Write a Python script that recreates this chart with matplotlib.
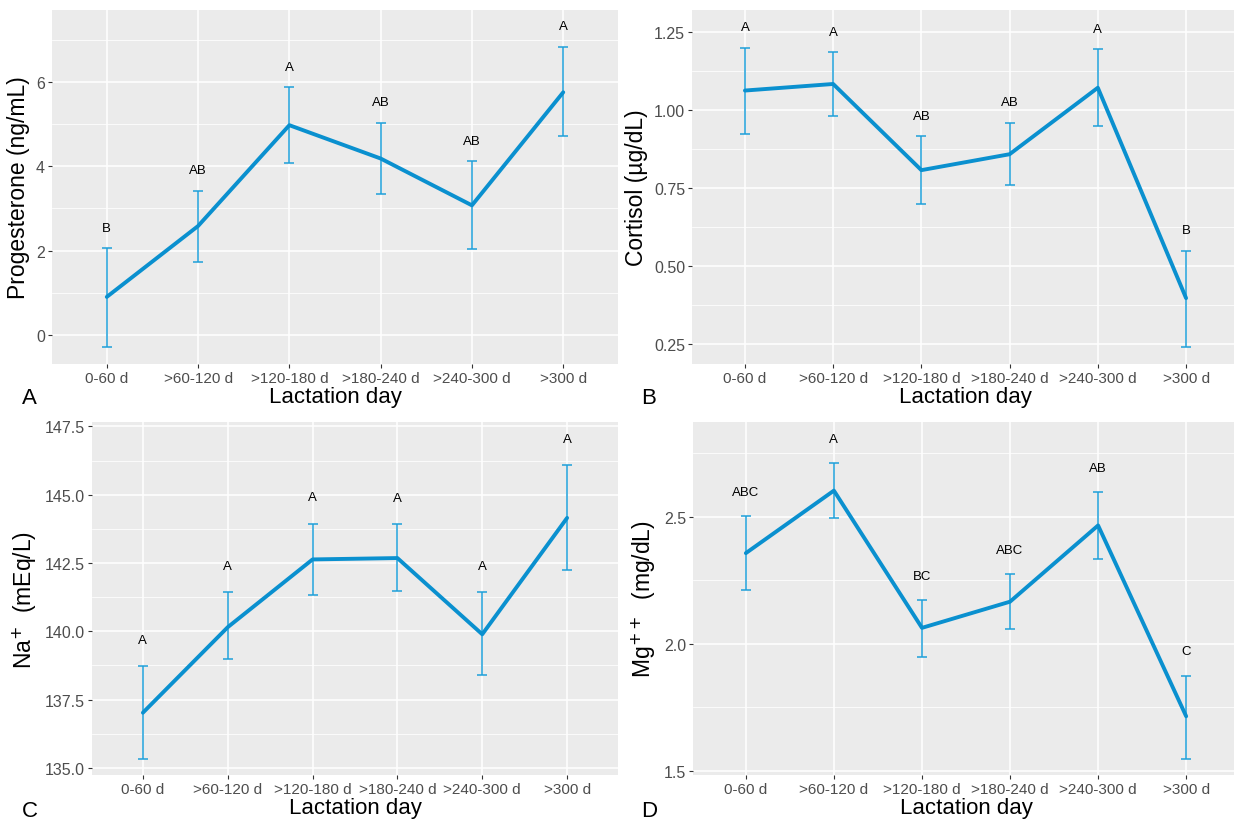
import matplotlib.pyplot as plt
import numpy as np

plt.rcParams['font.family'] = ['Liberation Sans', 'DejaVu Sans']

days = ['0-60 d', '>60-120 d', '>120-180 d', '>180-240 d', '>240-300 d', '>300 d']

# progesterone (ng/mL)
prog = [0.90, 2.58, 4.97, 4.18, 3.07, 5.75]
prog_lo = [-0.28, 1.72, 4.07, 3.33, 2.03, 4.72]
prog_hi = [2.05, 3.42, 5.87, 5.03, 4.12, 6.83]
prog_lab = ['B', 'AB', 'A', 'AB', 'AB', 'A']

# cortisol (ug/dL)
cort = [1.062, 1.083, 0.807, 0.858, 1.071, 0.397]
cort_lo = [0.924, 0.982, 0.700, 0.758, 0.948, 0.239]
cort_hi = [1.199, 1.185, 0.916, 0.958, 1.194, 0.549]
cort_lab = ['A', 'A', 'AB', 'AB', 'A', 'B']

# sodium (mEq/L)
na = [137.02, 140.15, 142.63, 142.68, 139.89, 144.15]
na_lo = [135.34, 138.98, 141.34, 141.46, 138.39, 142.26]
na_hi = [138.72, 141.43, 143.94, 143.92, 141.43, 146.07]
na_lab = ['A', 'A', 'A', 'A', 'A', 'A']

# magnesium (mg/dL)
mg = [2.356, 2.602, 2.062, 2.165, 2.465, 1.714]
mg_lo = [2.209, 2.496, 1.946, 2.058, 2.331, 1.546]
mg_hi = [2.502, 2.710, 2.172, 2.272, 2.596, 1.874]
mg_lab = ['ABC', 'A', 'BC', 'ABC', 'AB', 'C']

W, H = 1234, 820
fig = plt.figure(figsize=(W / 100, H / 100), dpi=100)


def box(l, t, r, b):
    return [l / W, 1 - b / H, (r - l) / W, (b - t) / H]


def panel(rect, y, lo, hi, labs, off, ylim, yticks, ytl, minor, ylabel, letter, lpos):
    ax = fig.add_axes(box(*rect))
    ax.set_facecolor('#EBEBEB')
    x = np.arange(len(days))
    for v in yticks:
        ax.axhline(v, color='white', lw=1.1, zorder=0)
    for v in minor:
        ax.axhline(v, color='white', lw=0.55, zorder=0)
    for xi in x:
        ax.axvline(xi, color='white', lw=1.1, zorder=0)
    y = np.array(y)
    ax.errorbar(x, y, yerr=[y - np.array(lo), np.array(hi) - y], fmt='none',
                ecolor='#1FA0DA', elinewidth=1.1, capsize=3.3, capthick=1.1, zorder=2)
    ax.plot(x, y, color='#0A90CF', lw=2.8, zorder=3, solid_capstyle='round')
    for xi, h, s in zip(x, hi, labs):
        ax.text(xi, h + off, s, ha='center', va='center', fontsize=9.5, color='black')
    ax.set_xlim(-0.6, len(days) - 0.4)
    ax.set_ylim(*ylim)
    ax.set_xticks(x)
    ax.set_xticklabels(days, fontsize=11, color='#4D4D4D')
    ax.set_yticks(yticks)
    ax.set_yticklabels(ytl, fontsize=11.5, color='#4D4D4D')
    ax.tick_params(length=3, width=0.8, color='#333333', pad=2)
    for s in ax.spines.values():
        s.set_visible(False)
    ax.set_xlabel('Lactation day', fontsize=16, labelpad=1)
    ax.set_ylabel(ylabel, fontsize=16.5, labelpad=4)
    fig.text(lpos[0] / W, 1 - lpos[1] / H, letter, fontsize=16, ha='left', va='bottom')
    return ax


panel((52, 11, 618, 365), prog, prog_lo, prog_hi, prog_lab, 0.48, (-0.69, 7.7),
      [0, 2, 4, 6], ['0', '2', '4', '6'], [1, 3, 5, 7],
      'Progesterone (ng/mL)', 'A', (22, 409))

panel((692, 11, 1239, 365), cort, cort_lo, cort_hi, cort_lab, 0.066, (0.186, 1.32),
      [0.25, 0.5, 0.75, 1.0, 1.25], ['0.25', '0.50', '0.75', '1.00', '1.25'],
      [0.375, 0.625, 0.875, 1.125], 'Cortisol (µg/dL)', 'B', (641, 409))

panel((92, 423, 618, 776), na, na_lo, na_hi, na_lab, 0.96, (134.74, 147.66),
      [135, 137.5, 140, 142.5, 145, 147.5],
      ['135.0', '137.5', '140.0', '142.5', '145.0', '147.5'],
      [136.25, 138.75, 141.25, 143.75, 146.25],
      'Na$^{+}$  (mEq/L)', 'C', (22, 822))

panel((693, 423, 1239, 776), mg, mg_lo, mg_hi, mg_lab, 0.096, (1.483, 2.872),
      [1.5, 2.0, 2.5], ['1.5', '2.0', '2.5'], [1.75, 2.25, 2.75],
      'Mg$^{++}$  (mg/dL)', 'D', (641, 822))

fig.savefig('out.png', dpi=100, facecolor='white')
